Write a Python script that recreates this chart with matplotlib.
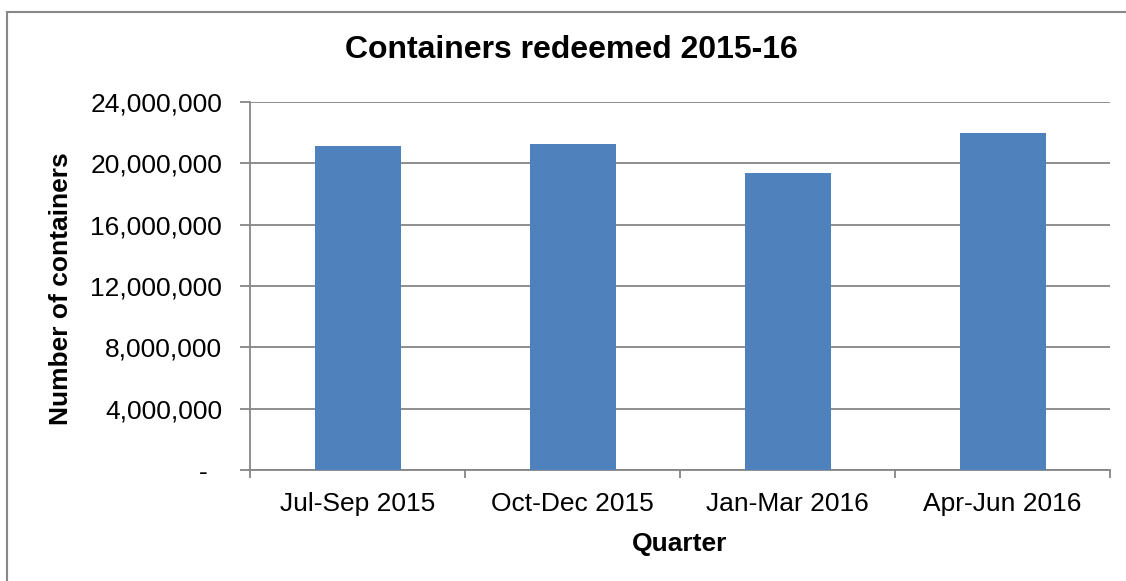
import numpy as np
import matplotlib.pyplot as plt
from matplotlib.patches import Rectangle
from matplotlib.ticker import FuncFormatter, FixedLocator

plt.rcParams['font.family'] = ['Liberation Sans', 'DejaVu Sans']

quarters = ['Jul-Sep 2015', 'Oct-Dec 2015', 'Jan-Mar 2016', 'Apr-Jun 2016']
containers = [21130000, 21260000, 19390000, 21960000]
yticks = [0, 4000000, 8000000, 12000000, 16000000, 20000000, 24000000]

W, H = 1126, 581
fig = plt.figure(figsize=(W / 100, H / 100), dpi=100)
ax = fig.add_axes([250 / W, 1 - 470 / H, 860 / W, 368 / H])

x = np.arange(len(quarters))
ax.bar(x, containers, width=0.4, color='#4F81BD', zorder=3)

ax.set_xlim(-0.5, len(quarters) - 0.5)
ax.set_ylim(0, 24000000)
ax.set_yticks(yticks)
# excel accounting style: zero shown as a dash with trailing padding
ax.yaxis.set_major_formatter(FuncFormatter(lambda v, p: '-  ' if v == 0 else '{:,.0f}'.format(v)))
ax.grid(axis='y', color='#868686', linewidth=1.3, zorder=0)

# category labels centred, tick marks at the boundaries
ax.set_xticks(x)
ax.set_xticklabels(quarters)
ax.tick_params(axis='x', which='major', length=0, labelsize=19, pad=16)
ax.xaxis.set_minor_locator(FixedLocator(np.arange(-0.5, len(quarters), 1.0)))
ax.tick_params(axis='x', which='minor', length=6, width=1.3, color='#868686')
ax.tick_params(axis='y', length=7, width=1.3, color='#868686', labelsize=19, pad=13)

for s in ['top', 'right']:
    ax.spines[s].set_visible(False)
ax.spines['left'].set_color('#868686')
ax.spines['bottom'].set_color('#868686')
ax.spines['left'].set_linewidth(1.3)
ax.spines['bottom'].set_linewidth(1.3)

ax.set_xlabel('Quarter', fontsize=19, fontweight='bold', labelpad=11)
fig.text(61 / W, 1 - 289 / H, 'Number of containers', rotation=90, fontsize=19,
         fontweight='bold', ha='center', va='center')
fig.text(571 / W, 1 - 50 / H, 'Containers redeemed 2015-16', fontsize=23,
         fontweight='bold', ha='center', va='center')

# chart border
fig.patches.append(Rectangle((7 / W, -0.1), 1.2, 1 - 12 / H + 0.1, transform=fig.transFigure,
                             fill=False, edgecolor='#888888', linewidth=1.5))

fig.savefig('out.png', dpi=100)
